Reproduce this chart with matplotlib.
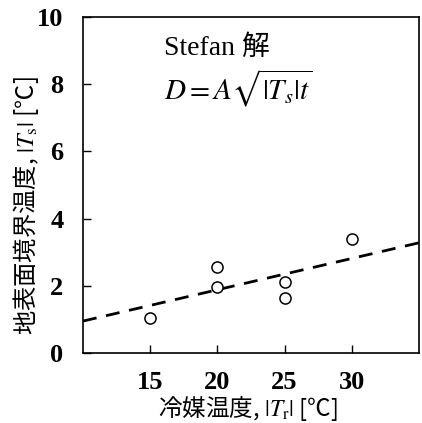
import matplotlib.pyplot as plt

plt.rcParams['font.family'] = ['Liberation Serif', 'Noto Sans CJK JP']
plt.rcParams['mathtext.fontset'] = 'stix'

# measured points
coolant_temp = [15, 20, 20, 25, 25, 30]
surface_temp = [1.05, 2.55, 1.95, 2.1, 1.65, 3.38]

# Stefan solution line
line_x = [10, 35]
line_y = [0.95, 3.28]

xticks = [15, 20, 25, 30]
yticks = [0, 2, 4, 6, 8, 10]

fig = plt.figure(figsize=(4.22, 4.23), dpi=100)
ax = fig.add_axes([83 / 422, 1 - 353 / 423, 336 / 422, 336 / 423])

ax.plot(line_x, line_y, 'k--', lw=2, dashes=(5, 3.5))
ax.plot(coolant_temp, surface_temp, 'o', mfc='white', mec='black', ms=8, mew=1.1)

ax.set_xlim(10, 35)
ax.set_ylim(0, 10)
ax.set_xticks(xticks)
ax.set_yticks(yticks)
ax.tick_params(direction='in', length=6, width=1, labelsize=19)
ax.tick_params(axis='x', pad=13)
ax.tick_params(axis='y', pad=14)
for lab in ax.get_xticklabels() + ax.get_yticklabels():
    lab.set_fontweight('bold')
for s in ax.spines.values():
    s.set_linewidth(1.2)

ax.set_xlabel('冷媒温度, $|T_\\mathrm{r}|$ [℃]', fontsize=17,
              family=['Noto Sans CJK JP', 'DejaVu Sans'])
ax.xaxis.set_label_coords(0.49, -0.122, transform=ax.transAxes)
ax.xaxis.label.set_va('top')
ax.set_ylabel('地表面境界温度, $|T_\\mathrm{s}|$ [℃]', fontsize=17.5,
              family=['Noto Sans CJK JP', 'DejaVu Sans'])
ax.yaxis.set_label_coords(-0.125, 0.44)

ax.text(0.24, 0.945, 'Stefan 解', transform=ax.transAxes, fontsize=20,
        family=['Liberation Serif', 'Noto Sans CJK JP'], va='top')
ax.text(0.24, 0.85, '$D = A\\sqrt{|T_s|t}$', transform=ax.transAxes,
        fontsize=21, va='top')

fig.savefig('out.png', dpi=100)
